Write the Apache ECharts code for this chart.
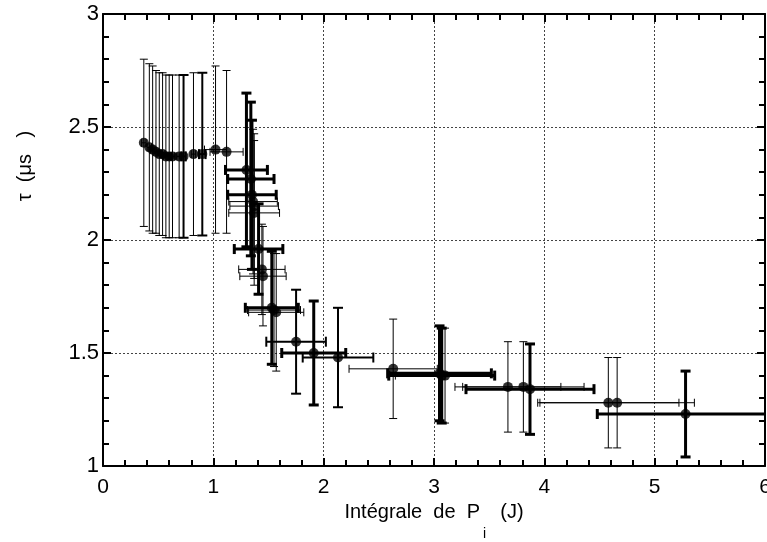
<!DOCTYPE html>
<html>
<head>
    <meta charset="utf-8">
    <title>tau vs integrale de Pi</title>
    <script type="text/javascript" src="https://cdn.jsdelivr.net/npm/echarts@6/dist/echarts.min.js"></script>
    <style>
        html, body { margin:0; padding:0; background:#fff; overflow:hidden; }
        #chart { width:767px; height:542px; }
    </style>
</head>
<body>
<div id="chart"></div>
<script type="text/javascript">
// valeurs
var xVals = [0.37, 0.42, 0.45, 0.48, 0.51, 0.54, 0.57, 0.60, 0.63, 0.69, 0.73, 0.82, 0.90, 1.02, 1.12,
             1.30, 1.34, 1.35, 1.36, 1.37, 1.37, 1.41, 1.44, 1.45, 1.53, 1.55, 1.57,
             1.75, 1.91, 2.13, 2.63, 3.05, 3.07, 3.10, 3.67, 3.81, 3.87, 4.58, 4.66, 5.28];
var yVals = [2.43, 2.41, 2.40, 2.39, 2.38, 2.38, 2.37, 2.37, 2.37, 2.37, 2.37, 2.38, 2.38, 2.40, 2.39,
             2.31, 2.27, 2.20, 2.17, 2.15, 2.12, 1.96, 1.87, 1.84, 1.70, 1.69, 1.68,
             1.55, 1.50, 1.48, 1.43, 1.41, 1.40, 1.40, 1.35, 1.35, 1.34, 1.28, 1.28, 1.23];
var xErr  = [0.02, 0.02, 0.02, 0.02, 0.02, 0.02, 0.02, 0.02, 0.02, 0.02, 0.02, 0.02, 0.03, 0.10, 0.15,
             0.19, 0.21, 0.22, 0.22, 0.22, 0.23, 0.22, 0.21, 0.21, 0.24, 0.24, 0.25,
             0.27, 0.29, 0.32, 0.40, 0.47, 0.48, 0.45, 0.48, 0.55, 0.58, 0.64, 0.70, 0.80];
var yErr  = [0.37, 0.37, 0.37, 0.36, 0.36, 0.36, 0.36, 0.36, 0.36, 0.36, 0.36, 0.36, 0.36, 0.37, 0.36,
             0.34, 0.34, 0.33, 0.32, 0.32, 0.32, 0.20, 0.20, 0.22, 0.25, 0.25, 0.26,
             0.23, 0.23, 0.22, 0.22, 0.21, 0.21, 0.21, 0.20, 0.20, 0.20, 0.20, 0.20, 0.19];
// epaisseur des barres (style)
var weight = [1, 1, 1, 1, 1, 1, 1, 1, 1, 1, 2, 1, 2, 1, 1,
              3, 3, 3, 1, 1, 1, 3, 1, 1, 3, 1, 1,
              2, 3, 2, 1, 3, 3, 1, 1, 1, 3, 1, 1, 3];

var points = [], bars = [];
for (var i = 0; i < xVals.length; i++) {
    points.push([xVals[i], yVals[i]]);
    bars.push([xVals[i], yVals[i], xErr[i], yErr[i]]);
}

function renderBars(params, api) {
    var x = api.value(0), y = api.value(1), ex = api.value(2), ey = api.value(3);
    var w = weight[params.dataIndex];
    var cap = w >= 2 ? 5 : 4;
    var l = api.coord([x - ex, y]), r = api.coord([x + ex, y]);
    var t = api.coord([x, y + ey]), b = api.coord([x, y - ey]);
    var st = { stroke: '#000', lineWidth: w };
    return {
        type: 'group',
        children: [
            { type: 'line', shape: { x1: l[0], y1: l[1], x2: r[0], y2: r[1] }, style: st },
            { type: 'line', shape: { x1: l[0], y1: l[1] - cap, x2: l[0], y2: l[1] + cap }, style: st },
            { type: 'line', shape: { x1: r[0], y1: r[1] - cap, x2: r[0], y2: r[1] + cap }, style: st },
            { type: 'line', shape: { x1: t[0], y1: t[1], x2: b[0], y2: b[1] }, style: st },
            { type: 'line', shape: { x1: t[0] - cap, y1: t[1], x2: t[0] + cap, y2: t[1] }, style: st },
            { type: 'line', shape: { x1: b[0] - cap, y1: b[1], x2: b[0] + cap, y2: b[1] }, style: st }
        ]
    };
}

var FONT = 'Liberation Sans, Arial, sans-serif';
var axisLine = { show: true, onZero: false, lineStyle: { color: '#000', width: 2 } };
var tick = { show: true, inside: true, length: 8, lineStyle: { color: '#000', width: 2 } };
var minor = { show: true, splitNumber: 5, length: 6, lineStyle: { color: '#000', width: 2 } };
var grid = { show: true, lineStyle: { color: '#444', type: [2, 2], width: 1 } };

var myChart = echarts.init(document.getElementById('chart'), null, { renderer: 'canvas' });
myChart.setOption({
    animation: false,
    backgroundColor: '#fff',
    grid: { left: 103, right: 2, top: 14, bottom: 76, containLabel: false, outerBoundsMode: 'none' },
    xAxis: [{
        type: 'value', min: 0, max: 6, interval: 1, position: 'bottom',
        axisLine: axisLine, axisTick: tick, minorTick: minor, splitLine: grid,
        axisLabel: { margin: 11, color: '#000', fontSize: 21, fontFamily: FONT },
        name: '{m|Intégrale  de  P}{s|i}{m|  (J)}', nameLocation: 'middle', nameGap: 34,
        nameTextStyle: {
            color: '#000', fontSize: 20, fontFamily: FONT,
            rich: {
                m: { fontSize: 20, fontFamily: FONT, color: '#000', lineHeight: 24, verticalAlign: 'top' },
                s: { fontSize: 14, fontFamily: FONT, color: '#000', lineHeight: 38, verticalAlign: 'bottom', padding: [0, 3, 0, 3] }
            }
        }
    }, {
        type: 'value', min: 0, max: 6, interval: 1, position: 'top',
        axisLine: axisLine, axisTick: tick, minorTick: minor,
        splitLine: { show: false }, axisLabel: { show: false }
    }],
    yAxis: [{
        type: 'value', min: 1, max: 3, interval: 0.5, position: 'left',
        axisLine: axisLine, axisTick: tick, minorTick: minor, splitLine: grid,
        axisLabel: { margin: 4, color: '#000', fontSize: 22, fontFamily: FONT }
    }, {
        type: 'value', min: 1, max: 3, interval: 0.5, position: 'right',
        axisLine: axisLine, axisTick: tick, minorTick: minor,
        splitLine: { show: false }, axisLabel: { show: false }
    }],
    graphic: [{
        type: 'text',
        x: 25, y: 166,
        rotation: Math.PI / 2,
        style: {
            text: 'τ  (μs   )',
            fontSize: 20, fontFamily: FONT, fill: '#000',
            align: 'center', verticalAlign: 'middle'
        }
    }],
    series: [{
        type: 'custom',
        renderItem: renderBars,
        data: bars,
        clip: true,
        z: 2
    }, {
        type: 'scatter',
        data: points,
        symbol: 'circle',
        symbolSize: 10,
        itemStyle: { color: '#000' },
        clip: true,
        z: 3
    }]
});
</script>
</body>
</html>
